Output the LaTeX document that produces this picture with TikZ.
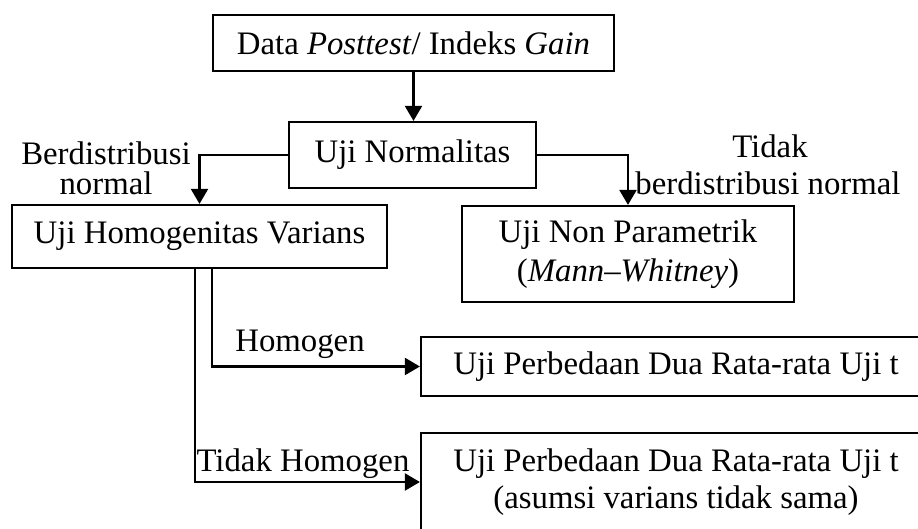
\documentclass[tikz,border=0pt]{standalone}
\usepackage{fontspec}
\setmainfont{Liberation Serif}
\usetikzlibrary{arrows.meta}
\tikzset{
    box/.style={draw,line width=1.1pt,inner sep=0pt,align=center},
    lbl/.style={inner sep=0pt,anchor=base},
    arr/.style={line width=1.1pt,-{Triangle[length=7.5pt,width=8.5pt]}}
}
\begin{document}
\begin{tikzpicture}[x=0.5pt,y=-0.5pt]
\useasboundingbox (0,0) rectangle (918,529);
\fontsize{16.4}{18.5}\selectfont
\node[box,minimum width=200.5pt,minimum height=28pt] (data) at (413.5,43) {Data \textit{Posttest}/ Indeks \textit{Gain}};
\node[box,minimum width=123.5pt,minimum height=33pt] (norm) at (412.5,155) {Uji Normalitas};
\node[box,minimum width=187.5pt,minimum height=31.5pt] (homo) at (199.5,236.5) {Uji Homogenitas Varians};
\node[box,minimum width=166pt,minimum height=48pt] (nonpar) at (628,254) {Uji Non Parametrik\\[1pt](\textit{Mann}--\textit{Whitney})};
\node[box,minimum width=255pt,minimum height=29.5pt] (ujit) at (676,366.5) {Uji Perbedaan Dua Rata-rata Uji t};
\node[box,minimum width=255pt,minimum height=49pt] (ujitb) at (676,482) {Uji Perbedaan Dua Rata-rata Uji t\\(asumsi varians tidak sama)};
\node[lbl] (normal1) at (106,165) {Berdistribusi};
\node[lbl] (normal2) at (106,195) {normal};
\node[lbl] (tidak1) at (770,158) {Tidak};
\node[lbl] (tidak2) at (768,195) {berdistribusi normal};
\node[lbl] (homogen) at (300,352) {Homogen};
\node[lbl] (tidakhomogen) at (303,472) {Tidak Homogen};
\coordinate (h1) at ([xshift=6.25pt]homo.south);
\coordinate (h2) at ([xshift=-2.25pt]homo.south);
\draw[arr] (data.south) -- (data.south |- norm.north);
\draw[arr] (norm.west) -| (homo.north);
\draw[arr] (norm.east) -| (nonpar.north);
\draw[arr] (h1) |- (ujit.west);
\draw[arr] (h2) |- (ujitb.west);
\end{tikzpicture}
\end{document}
